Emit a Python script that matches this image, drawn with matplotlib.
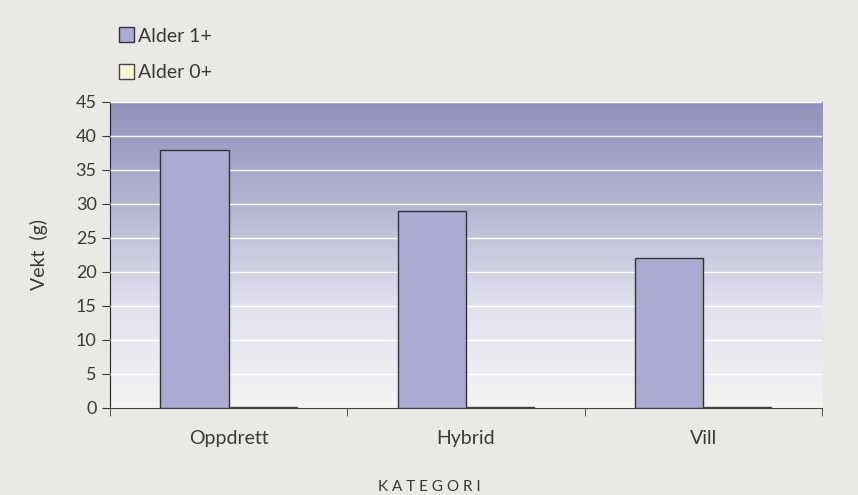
import matplotlib.pyplot as plt
import matplotlib
import numpy as np
from matplotlib.colors import LinearSegmentedColormap

# data
categories = ['Oppdrett', 'Hybrid', 'Vill']
alder_1 = [38, 29, 22]
alder_0 = [0.2, 0.2, 0.2]

matplotlib.rcParams['font.family'] = ['Lato', 'DejaVu Sans']
matplotlib.rcParams['font.size'] = 13

bg = '#EAE9E5'
txt = '#3A3A3A'
fig = plt.figure(figsize=(8.58, 4.95), dpi=100, facecolor=bg)
ax = fig.add_axes([0.128, 0.176, 0.83, 0.618])

# gradient background in the plot area
cmap = LinearSegmentedColormap.from_list('grad', ['#F4F4F4', '#E2E1EE', '#B4B4D2', '#9191BD'])
grad = np.linspace(0, 1, 256).reshape(-1, 1)
ax.imshow(grad, aspect='auto', cmap=cmap, origin='lower',
          extent=[0, 1, 0, 1], transform=ax.transAxes, zorder=0)

x = np.arange(len(categories))
w = 0.287
ax.bar(x - w / 2, alder_1, w, color='#AAAAD3', edgecolor='#333333', linewidth=1.0,
       label='Alder 1+', zorder=3)
ax.bar(x + w / 2, alder_0, w, color='#F7F7D8', edgecolor='#444444', linewidth=1.0,
       label='Alder 0+', zorder=3)

ax.set_xlim(-0.5, 2.5)
ax.set_ylim(0, 45)
ax.set_yticks(range(0, 46, 5))
ax.set_xticks(x)
ax.set_xticklabels(categories, fontsize=14, color=txt)
ax.set_xticks([-0.5, 0.5, 1.5, 2.5], minor=True)
ax.tick_params(axis='x', which='major', length=0, pad=16)
ax.tick_params(axis='x', which='minor', length=6, color=txt, direction='out')
ax.tick_params(axis='y', length=6, color=txt, colors=txt, labelsize=13)
ax.yaxis.grid(True, color='white', linewidth=1.0, zorder=1)
ax.set_axisbelow(False)

for s in ['top', 'right']:
    ax.spines[s].set_visible(False)
ax.spines['left'].set_color('#222222')
ax.spines['bottom'].set_color('#444444')

ax.set_ylabel('Vekt  (g)', fontsize=14, color=txt, labelpad=20)
fig.text(0.5, 0.003, 'K A T E G O R I', ha='center', va='bottom', fontsize=11, color=txt)

fig.legend(loc='upper left', bbox_to_anchor=(0.118, 0.98), frameon=False,
           handlelength=0.8, handleheight=0.8, handletextpad=0.2,
           labelspacing=1.0, fontsize=14, labelcolor=txt)

fig.savefig('out.png', dpi=100, facecolor=bg)
